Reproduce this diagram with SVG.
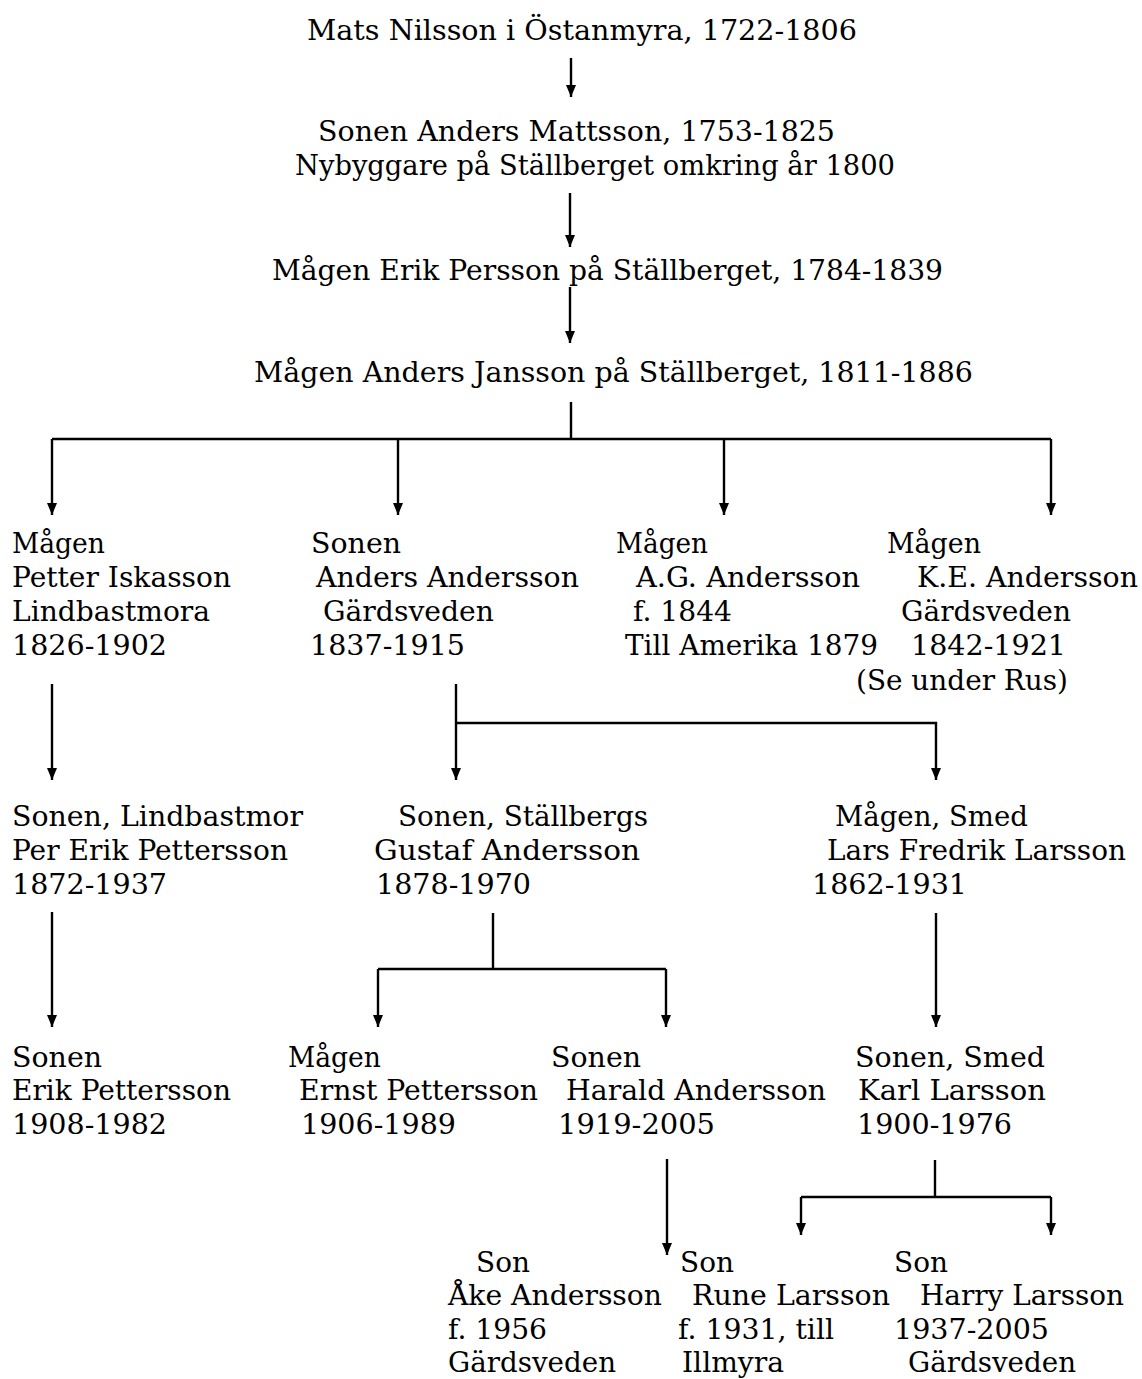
<svg xmlns="http://www.w3.org/2000/svg" width="1142" height="1379" viewBox="0 0 1142 1379">
<style>
text{font-family:"DejaVu Serif","Liberation Serif",serif;font-size:27px;fill:#000}
.c{fill:none;stroke:#000;stroke-width:2.4}
</style>
<defs>
<marker id="ah" viewBox="0 0 12 10" refX="12" refY="5" markerWidth="12" markerHeight="10" markerUnits="userSpaceOnUse" orient="auto">
<path d="M0,0 L12,5 L0,10 z" fill="#000"/>
</marker>
</defs>
<rect width="1142" height="1379" fill="#fff"/>
<g id="connectors">
<path class="c" d="M571,58 V97" marker-end="url(#ah)"/>
<path class="c" d="M570,193 V247" marker-end="url(#ah)"/>
<path class="c" d="M570,287 V343" marker-end="url(#ah)"/>
<path class="c" d="M571,402 V439 M52,439 H1051"/>
<path class="c" d="M52,439 V515" marker-end="url(#ah)"/>
<path class="c" d="M398,439 V515" marker-end="url(#ah)"/>
<path class="c" d="M724,439 V515" marker-end="url(#ah)"/>
<path class="c" d="M1051,439 V515" marker-end="url(#ah)"/>
<path class="c" d="M52,684 V780" marker-end="url(#ah)"/>
<path class="c" d="M456,684 V780" marker-end="url(#ah)"/>
<path class="c" d="M456,723 H936 V780" marker-end="url(#ah)"/>
<path class="c" d="M52,912 V1027" marker-end="url(#ah)"/>
<path class="c" d="M493,913 V969 M378,969 H666"/>
<path class="c" d="M378,969 V1027" marker-end="url(#ah)"/>
<path class="c" d="M666,969 V1027" marker-end="url(#ah)"/>
<path class="c" d="M936,913 V1027" marker-end="url(#ah)"/>
<path class="c" d="M667,1159 V1255" marker-end="url(#ah)"/>
<path class="c" d="M935,1160 V1197 M801,1197 H1051"/>
<path class="c" d="M801,1197 V1235" marker-end="url(#ah)"/>
<path class="c" d="M1051,1197 V1235" marker-end="url(#ah)"/>
</g>
<g id="mats"><text x="307" y="40" textLength="550" lengthAdjust="spacingAndGlyphs">Mats Nilsson i Östanmyra, 1722-1806</text></g>
<g id="anders-mattsson">
<text x="318" y="141" textLength="517" lengthAdjust="spacingAndGlyphs">Sonen Anders Mattsson, 1753-1825</text>
<text x="295" y="175" textLength="600" lengthAdjust="spacingAndGlyphs">Nybyggare på Ställberget omkring år 1800</text>
</g>
<g id="erik-persson"><text x="272" y="280" textLength="671" lengthAdjust="spacingAndGlyphs">Mågen Erik Persson på Ställberget, 1784-1839</text></g>
<g id="anders-jansson"><text x="254" y="382" textLength="719" lengthAdjust="spacingAndGlyphs">Mågen Anders Jansson på Ställberget, 1811-1886</text></g>
<g id="petter-iskasson">
<text x="12" y="553" textLength="93" lengthAdjust="spacingAndGlyphs">Mågen</text>
<text x="12" y="587" textLength="219" lengthAdjust="spacingAndGlyphs">Petter Iskasson</text>
<text x="12" y="621" textLength="198" lengthAdjust="spacingAndGlyphs">Lindbastmora</text>
<text x="12" y="655" textLength="155" lengthAdjust="spacingAndGlyphs">1826-1902</text>
</g>
<g id="anders-andersson">
<text x="311" y="553" textLength="90" lengthAdjust="spacingAndGlyphs">Sonen</text>
<text x="316" y="587" textLength="263" lengthAdjust="spacingAndGlyphs">Anders Andersson</text>
<text x="323" y="621" textLength="171" lengthAdjust="spacingAndGlyphs">Gärdsveden</text>
<text x="310" y="655" textLength="155" lengthAdjust="spacingAndGlyphs">1837-1915</text>
</g>
<g id="ag-andersson">
<text x="616" y="553" textLength="92" lengthAdjust="spacingAndGlyphs">Mågen</text>
<text x="636" y="587" textLength="224" lengthAdjust="spacingAndGlyphs">A.G. Andersson</text>
<text x="633" y="621" textLength="99" lengthAdjust="spacingAndGlyphs">f. 1844</text>
<text x="625" y="655" textLength="253" lengthAdjust="spacingAndGlyphs">Till Amerika 1879</text>
</g>
<g id="ke-andersson">
<text x="887" y="553" textLength="94" lengthAdjust="spacingAndGlyphs">Mågen</text>
<text x="917" y="587" textLength="221" lengthAdjust="spacingAndGlyphs">K.E. Andersson</text>
<text x="901" y="621" textLength="170" lengthAdjust="spacingAndGlyphs">Gärdsveden</text>
<text x="911" y="655" textLength="155" lengthAdjust="spacingAndGlyphs">1842-1921</text>
<text x="856" y="690" textLength="212" lengthAdjust="spacingAndGlyphs">(Se under Rus)</text>
</g>
<g id="per-erik-pettersson">
<text x="12" y="826" textLength="291" lengthAdjust="spacingAndGlyphs">Sonen, Lindbastmor</text>
<text x="12" y="860" textLength="276" lengthAdjust="spacingAndGlyphs">Per Erik Pettersson</text>
<text x="12" y="894" textLength="155" lengthAdjust="spacingAndGlyphs">1872-1937</text>
</g>
<g id="gustaf-andersson">
<text x="398" y="826" textLength="250" lengthAdjust="spacingAndGlyphs">Sonen, Ställbergs</text>
<text x="374" y="860" textLength="266" lengthAdjust="spacingAndGlyphs">Gustaf Andersson</text>
<text x="376" y="894" textLength="155" lengthAdjust="spacingAndGlyphs">1878-1970</text>
</g>
<g id="lars-fredrik-larsson">
<text x="835" y="826" textLength="193" lengthAdjust="spacingAndGlyphs">Mågen, Smed</text>
<text x="827" y="860" textLength="299" lengthAdjust="spacingAndGlyphs">Lars Fredrik Larsson</text>
<text x="812" y="894" textLength="155" lengthAdjust="spacingAndGlyphs">1862-1931</text>
</g>
<g id="erik-pettersson">
<text x="12" y="1067" textLength="90" lengthAdjust="spacingAndGlyphs">Sonen</text>
<text x="12" y="1100" textLength="219" lengthAdjust="spacingAndGlyphs">Erik Pettersson</text>
<text x="12" y="1134" textLength="155" lengthAdjust="spacingAndGlyphs">1908-1982</text>
</g>
<g id="ernst-pettersson">
<text x="288" y="1067" textLength="93" lengthAdjust="spacingAndGlyphs">Mågen</text>
<text x="299" y="1100" textLength="239" lengthAdjust="spacingAndGlyphs">Ernst Pettersson</text>
<text x="301" y="1134" textLength="155" lengthAdjust="spacingAndGlyphs">1906-1989</text>
</g>
<g id="harald-andersson">
<text x="551" y="1067" textLength="90" lengthAdjust="spacingAndGlyphs">Sonen</text>
<text x="566" y="1100" textLength="260" lengthAdjust="spacingAndGlyphs">Harald Andersson</text>
<text x="558" y="1134" textLength="157" lengthAdjust="spacingAndGlyphs">1919-2005</text>
</g>
<g id="karl-larsson">
<text x="855" y="1067" textLength="190" lengthAdjust="spacingAndGlyphs">Sonen, Smed</text>
<text x="858" y="1100" textLength="188" lengthAdjust="spacingAndGlyphs">Karl Larsson</text>
<text x="857" y="1134" textLength="155" lengthAdjust="spacingAndGlyphs">1900-1976</text>
</g>
<g id="ake-andersson">
<text x="476" y="1272" textLength="54" lengthAdjust="spacingAndGlyphs">Son</text>
<text x="448" y="1305" textLength="214" lengthAdjust="spacingAndGlyphs">Åke Andersson</text>
<text x="448" y="1339" textLength="99" lengthAdjust="spacingAndGlyphs">f. 1956</text>
<text x="448" y="1372" textLength="168" lengthAdjust="spacingAndGlyphs">Gärdsveden</text>
</g>
<g id="rune-larsson">
<text x="680" y="1272" textLength="54" lengthAdjust="spacingAndGlyphs">Son</text>
<text x="692" y="1305" textLength="198" lengthAdjust="spacingAndGlyphs">Rune Larsson</text>
<text x="678" y="1339" textLength="156" lengthAdjust="spacingAndGlyphs">f. 1931, till</text>
<text x="682" y="1372" textLength="102" lengthAdjust="spacingAndGlyphs">Illmyra</text>
</g>
<g id="harry-larsson">
<text x="894" y="1272" textLength="54" lengthAdjust="spacingAndGlyphs">Son</text>
<text x="920" y="1305" textLength="204" lengthAdjust="spacingAndGlyphs">Harry Larsson</text>
<text x="894" y="1339" textLength="155" lengthAdjust="spacingAndGlyphs">1937-2005</text>
<text x="908" y="1372" textLength="168" lengthAdjust="spacingAndGlyphs">Gärdsveden</text>
</g>
</svg>
